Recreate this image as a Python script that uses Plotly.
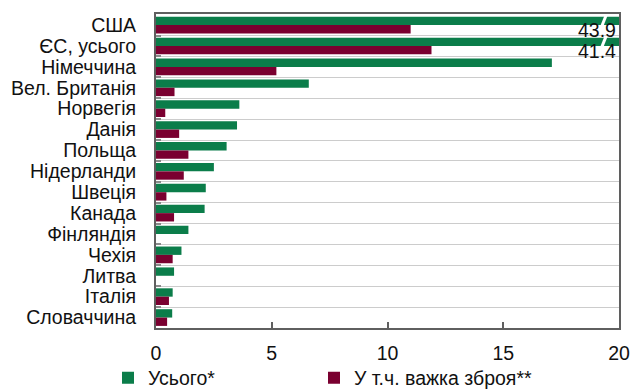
import plotly.graph_objects as go

# Military aid commitments, EUR bn
countries = ["США", "ЄС, усього", "Німеччина", "Вел. Британія", "Норвегія", "Данія",
             "Польща", "Нідерланди", "Швеція", "Канада", "Фінляндія", "Чехія",
             "Литва", "Італія", "Словаччина"]
total = [43.9, 41.4, 17.1, 6.6, 3.6, 3.5, 3.05, 2.5, 2.15, 2.1, 1.4, 1.1, 0.78, 0.72, 0.7]
heavy = [11.0, 11.9, 5.2, 0.8, 0.4, 1.0, 1.4, 1.2, 0.45, 0.78, 0.0, 0.72, 0.0, 0.56, 0.48]

series_names = ["Усього*", "У т.ч. важка зброя**"]
x_ticks = [0, 5, 10, 15, 20]
XMAX = 20

GREEN = "#0b7d4a"
RED = "#7a0030"
FRAME = "#5f5f5f"
FONT = "Liberation Sans, Arial, sans-serif"
FS = 19.5
W, H = 632, 389

fig = go.Figure()
fig.add_trace(go.Bar(y=countries, x=total, orientation="h", name=series_names[0],
                     marker=dict(color=GREEN, line=dict(width=0)), legend="legend"))
fig.add_trace(go.Bar(y=countries, x=heavy, orientation="h", name=series_names[1],
                     marker=dict(color=RED, line=dict(width=0)), legend="legend2"))

annotations = []
shapes = []
for i, v in enumerate(total):
    if v > XMAX:
        # value label for bars running past the axis end
        annotations.append(dict(x=XMAX, y=i + 0.24, xref="x", yref="y",
                                text=f"{v:.1f}", showarrow=False, xanchor="right",
                                yanchor="middle", xshift=-1,
                                font=dict(family=FONT, size=FS, color="#111")))
        # axis-break slash across the truncated bar
        shapes.append(dict(type="line", xref="x", yref="y",
                           x0=XMAX - 0.74, x1=XMAX - 0.56,
                           y0=i + 0.04, y1=i - 0.46,
                           line=dict(color="white", width=3), layer="above"))

legend_common = dict(orientation="h", xref="container", yref="container",
                     xanchor="left", yanchor="middle", y=1 - 378 / H,
                     bgcolor="rgba(0,0,0,0)", font=dict(family=FONT, size=FS),
                     itemwidth=30)

fig.update_layout(
    width=W, height=H,
    margin=dict(l=156, r=13, t=14, b=61, autoexpand=False),
    paper_bgcolor="white", plot_bgcolor="white",
    barmode="group", bargap=0.2, bargroupgap=0.0,
    font=dict(family=FONT, size=FS, color="#111"),
    showlegend=True,
    legend=dict(x=108 / W, **legend_common),
    legend2=dict(x=314 / W, **legend_common),
    annotations=annotations,
    shapes=shapes,
)

fig.update_xaxes(range=[0, XMAX], tickvals=x_ticks, ticktext=[str(t) for t in x_ticks],
                 ticks="inside", ticklen=6, tickwidth=2, tickcolor=FRAME,
                 showline=True, linecolor=FRAME, linewidth=2, mirror=True,
                 showgrid=False, zeroline=False, ticklabelstandoff=7, automargin=False,
                 tickfont=dict(family=FONT, size=FS, color="#111"))
fig.update_yaxes(type="category", autorange="reversed", tickson="boundaries",
                 tickmode="linear", tick0=0, dtick=1,
                 ticks="inside", ticklen=5, tickwidth=2, tickcolor="#8a8a8a",
                 showgrid=True, gridcolor="#cccccc", gridwidth=1,
                 showline=True, linecolor=FRAME, linewidth=2, mirror=True,
                 ticklabelstandoff=14, automargin=False,
                 tickfont=dict(family=FONT, size=FS, color="#111"))

fig.write_html("out.html")
